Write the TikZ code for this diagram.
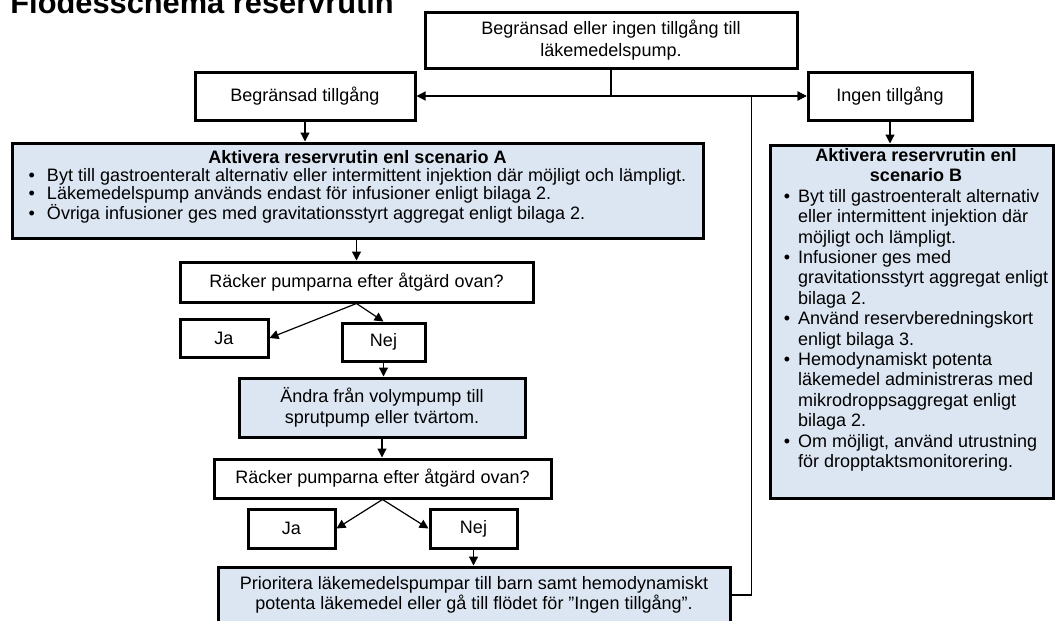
\documentclass[tikz,border=0pt]{standalone}
\usepackage{fontspec}
\setmainfont{Liberation Sans}
\usetikzlibrary{arrows.meta}
\definecolor{boxblue}{HTML}{DCE6F2}

\begin{document}
\begin{tikzpicture}[x=0.5pt,y=-0.5pt,
    font=\fontsize{9}{10}\selectfont,
    box/.style={draw,line width=1.5pt,fill=white,inner sep=0pt,align=center},
    bluebox/.style={box,fill=boxblue},
    arr/.style={-{Triangle[length=4.5pt,width=4.5pt]},line width=0.6pt},
    link/.style={line width=0.6pt}]
    \useasboundingbox (0,0) rectangle (1055,621);
    \clip (0,0) rectangle (1055,621);
    \node[anchor=base west,inner sep=0pt,font=\fontsize{15.4}{18}\selectfont\bfseries] (title) at (10,13) {Flödesschema reservrutin};
    % top of the flow
    \node[box,minimum width=186pt,minimum height=28pt,font=\fontsize{9}{11}\selectfont] (start) at (611,40) {Begränsad eller ingen tillgång till\\läkemedelspump.};
    \node[box,minimum width=110pt,minimum height=24pt] (begr) at (305,96) {Begränsad tillgång};
    \node[box,minimum width=82pt,minimum height=24pt] (ingen) at (890,96) {Ingen tillgång};
    \coordinate (split) at (start.south |- begr.east);
    \draw[link] (start.south) -- (split);
    \draw[arr] (split) -- (begr.east);
    \draw[arr] (split) -- (ingen.west);
    % scenario A
    \node[bluebox,minimum width=345.5pt,minimum height=47.5pt,font=\fontsize{9}{8.7}\selectfont] (scenA) at (357.5,190.5) {%
      \begin{tabular}{@{}l@{\hspace{6pt}}l@{}}
        \multicolumn{2}{c}{\textbf{Aktivera reservrutin enl scenario A}}\\
        \textbullet & Byt till gastroenteralt alternativ eller intermittent injektion där möjligt och lämpligt.\\
        \textbullet & Läkemedelspump används endast för infusioner enligt bilaga 2.\\
        \textbullet & Övriga infusioner ges med gravitationsstyrt aggregat enligt bilaga 2.\\[3pt]
      \end{tabular}};
    % scenario B
    \node[bluebox,minimum width=141.5pt,minimum height=176.5pt,font=\fontsize{9}{10.2}\selectfont] (scenB) at (911.5,321.5) {%
      \begin{tabular}{@{\hspace{4.5pt}}l@{\hspace{4pt}}l@{}}
        \multicolumn{2}{@{\hspace{4.5pt}}c@{}}{\textbf{Aktivera reservrutin enl}}\\
        \multicolumn{2}{@{\hspace{4.5pt}}c@{}}{\textbf{scenario B}}\\
        \textbullet & Byt till gastroenteralt alternativ\\
          & eller intermittent injektion där\\
          & möjligt och lämpligt.\\
        \textbullet & Infusioner ges med\\
          & gravitationsstyrt aggregat enligt\\
          & bilaga 2.\\
        \textbullet & Använd reservberedningskort\\
          & enligt bilaga 3.\\
        \textbullet & Hemodynamiskt potenta\\
          & läkemedel administreras med\\
          & mikrodroppsaggregat enligt\\
          & bilaga 2.\\
        \textbullet & Om möjligt, använd utrustning\\
          & för dropptaktsmonitorering.\\[11pt]
      \end{tabular}};
    \draw[arr] (begr.south) -- (begr.south |- scenA.north);
    \draw[arr] (ingen.south) -- (ingen.south |- scenB.north);
    % first check
    \node[box,minimum width=176.5pt,minimum height=20pt] (check1) at (356.5,282) {Räcker pumparna efter åtgärd ovan?};
    \node[box,minimum width=44pt,minimum height=19pt] (ja1) at (224,338) {Ja};
    \node[box,minimum width=41.5pt,minimum height=19pt] (nej1) at (383.5,342) {Nej};
    \node[bluebox,minimum width=143pt,minimum height=29.5pt,font=\fontsize{9}{10.5}\selectfont] (swap) at (382,407.5) {Ändra från volympump till\\sprutpump eller tvärtom.};
    \draw[arr] (check1.north |- scenA.south) -- (check1.north);
    \draw[arr] (check1.south) -- (ja1.east);
    \draw[arr] (check1.south) -- (nej1.north);
    \draw[arr] (nej1.south) -- (nej1.south |- swap.north);
    % second check
    \node[box,minimum width=168.5pt,minimum height=19.5pt] (check2) at (382.5,478.5) {Räcker pumparna efter åtgärd ovan?};
    \node[box,minimum width=43.5pt,minimum height=19.5pt] (ja2) at (291.5,528.5) {Ja};
    \node[box,minimum width=43.5pt,minimum height=19.5pt] (nej2) at (473.5,528.5) {Nej};
    \node[bluebox,minimum width=256pt,minimum height=28pt] (prio) at (474,595) {Prioritera läkemedelspumpar till barn samt hemodynamiskt\\potenta läkemedel eller gå till flödet för ”Ingen tillgång”.};
    \draw[arr] (swap.south) -- (swap.south |- check2.north);
    \draw[arr] (check2.south) -- (ja2.east);
    \draw[arr] (check2.south) -- (nej2.west);
    \draw[arr] (nej2.south) -- (nej2.south |- prio.north);
    \draw[arr] (prio.east) -- ++(20,0) |- (ingen.west);
\end{tikzpicture}
\end{document}
